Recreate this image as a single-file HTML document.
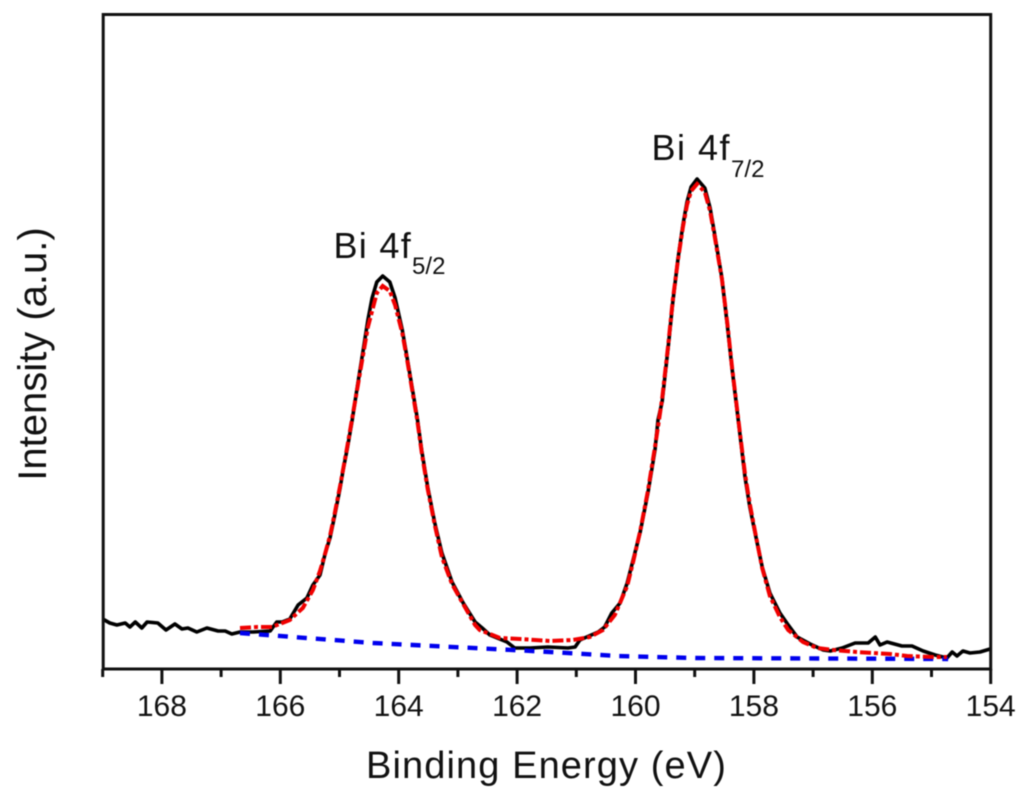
<!DOCTYPE html>
<html lang="en">
<head>
<meta charset="utf-8">
<title>Bi 4f XPS spectrum</title>
<style>
html,body{margin:0;padding:0;background:#fff;width:1024px;height:793px;overflow:hidden}
svg{display:block;filter:blur(0.4px)}
text{font-family:"Liberation Sans",Arial,sans-serif;fill:#111}
</style>
</head>
<body>
<svg id="chart" xmlns="http://www.w3.org/2000/svg" width="1024" height="793" viewBox="0 0 1024 793">
<rect width="1024" height="793" fill="#fff"/>
<g id="series"></g>
<rect x="103.2" y="14.5" width="887.5" height="654.5" fill="none" stroke="#111" stroke-width="3"/>
<g id="ticks"></g>
<text x="333.5" y="258" font-size="36" letter-spacing="1.3">Bi 4f<tspan font-size="24" dy="16" letter-spacing="0">5/2</tspan></text>
<text x="651.5" y="160" font-size="36" letter-spacing="1.5">Bi 4f<tspan font-size="24" dy="17" letter-spacing="0">7/2</tspan></text>
<text x="546.5" y="778" font-size="38" text-anchor="middle" letter-spacing="1.1">Binding Energy (eV)</text>
<text transform="translate(46,354) rotate(-90)" font-size="40" text-anchor="middle">Intensity (a.u.)</text>
</svg>
<script>
const rawEnergy = [169.0,168.88,168.76,168.62,168.54,168.45,168.34,168.25,168.07,167.93,167.78,167.66,167.56,167.41,167.24,167.05,166.93,166.82,166.68,166.46,166.17,166.06,165.97,165.84,165.70,165.55,165.45,165.33,165.24,165.16,165.08,164.99,164.94,164.87,164.79,164.69,164.60,164.52,164.45,164.37,164.27,164.15,164.06,163.94,163.86,163.78,163.69,163.61,163.51,163.39,163.27,163.10,162.91,162.71,162.59,162.46,162.17,162.04,161.78,161.48,161.14,161.02,160.94,160.63,160.52,160.40,160.26,160.14,160.04,159.92,159.79,159.67,159.62,159.55,159.45,159.37,159.28,159.20,159.13,159.06,158.96,158.83,158.74,158.66,158.54,158.45,158.37,158.30,158.23,158.15,158.07,157.98,157.86,157.73,157.56,157.42,157.27,157.05,156.83,156.71,156.51,156.29,156.07,155.95,155.87,155.75,155.50,155.33,155.14,154.94,154.74,154.65,154.57,154.47,154.35,154.18,154.01];
const rawIntensity = [50,46,44,46,42,47,41,47,46,39,45,40,41,37,41,38,38,35,37,37,38,47,47,50,64,71,84,94,116,131,154,181,199,220,247,286,319,349,371,387,393,387,371,339,312,284,252,218,182,146,116,87,66,47,41,34,27,21,21,22,21,22,29,37,42,56,66,86,109,137,176,219,249,267,321,367,411,444,467,482,490,481,461,434,391,344,301,267,232,192,162,136,102,76,56,44,32,25,19,18,21,26,26,32,24,27,23,23,18,14,11,17,13,18,16,17,20];

const fitEnergy = [166.68,166.39,166.14,165.84,165.62,165.45,165.33,165.24,165.16,165.08,164.99,164.87,164.79,164.69,164.60,164.52,164.45,164.37,164.27,164.15,164.06,163.94,163.86,163.78,163.69,163.61,163.51,163.39,163.27,163.10,162.91,162.71,162.63,162.29,161.95,161.44,161.06,160.77,160.55,160.35,160.14,160.04,159.92,159.79,159.67,159.55,159.45,159.37,159.28,159.20,159.13,159.06,158.96,158.83,158.74,158.66,158.54,158.45,158.37,158.30,158.23,158.15,158.07,157.98,157.86,157.73,157.56,157.42,157.17,156.93,156.66,156.26,155.99,155.70,155.41,154.97,154.74];
const fitIntensity = [41,42,42,49,61,79,98,116,133,156,183,222,249,284,315,342,358,376,383,378,364,336,310,282,250,216,180,144,112,85,65,44,39,31,30,28,29,32,39,54,83,107,138,178,222,270,323,369,410,442,464,478,485,477,458,432,390,346,302,268,233,195,165,137,101,73,52,39,27,21,19,17,16,15,13,12,12];

const baselineEnergy = [166.68,164.43,162.07,161.44,160.30,158.99,154.72];
const baselineIntensity = [36,26,19,17,13,11,10];

const majorTicks = [168,166,164,162,160,158,156,154];
const minorTicks = [169,167,165,163,161,159,157,155];

const NS = 'http://www.w3.org/2000/svg';
const seriesGroup = document.getElementById('series');
const tickGroup = document.getElementById('ticks');
function xScale(v){ return 990.7 - (v - 154) * 59.2; }
function yScale(v){ return 669 - v; }
function pathFrom(xs, ys){
  return xs.map(function(v, i){ return (i ? 'L' : 'M') + xScale(v).toFixed(1) + ' ' + yScale(ys[i]).toFixed(1); }).join(' ');
}

const rawLine = document.createElementNS(NS, 'path');


rawLine.setAttribute('d', pathFrom(rawEnergy, rawIntensity));
rawLine.setAttribute('fill', 'none');
rawLine.setAttribute('stroke', '#000');
rawLine.setAttribute('stroke-width', '3.6');
rawLine.setAttribute('stroke-linejoin', 'round');
seriesGroup.appendChild(rawLine);

const baseLine = document.createElementNS(NS, 'path');


baseLine.setAttribute('d', pathFrom(baselineEnergy, baselineIntensity));
baseLine.setAttribute('fill', 'none');
baseLine.setAttribute('stroke', '#0000ee');
baseLine.setAttribute('stroke-width', '4.4');
baseLine.setAttribute('stroke-dasharray', '10 9');
seriesGroup.appendChild(baseLine);

const fitLine = document.createElementNS(NS, 'path');


fitLine.setAttribute('d', pathFrom(fitEnergy, fitIntensity));
fitLine.setAttribute('fill', 'none');
fitLine.setAttribute('stroke', '#f00000');
fitLine.setAttribute('stroke-width', '4');
fitLine.setAttribute('stroke-dasharray', '11 3 4 3');
seriesGroup.appendChild(fitLine);

majorTicks.forEach(function(v){
  const t = document.createElementNS(NS, 'line');
  
  
  t.setAttribute('x1', xScale(v));
  t.setAttribute('x2', xScale(v));
  t.setAttribute('y1', 669);
  t.setAttribute('y2', 684);
  t.setAttribute('stroke', '#111');
  t.setAttribute('stroke-width', '3');
  tickGroup.appendChild(t);
  const label = document.createElementNS(NS, 'text');
  
  
  label.setAttribute('x', xScale(v));
  label.setAttribute('y', 716);
  label.setAttribute('font-size', '30');
  label.setAttribute('text-anchor', 'middle');
  label.textContent = String(v);
  tickGroup.appendChild(label);
});
minorTicks.forEach(function(v){
  const t = document.createElementNS(NS, 'line');
  
  
  t.setAttribute('x1', xScale(v));
  t.setAttribute('x2', xScale(v));
  t.setAttribute('y1', 669);
  t.setAttribute('y2', 677);
  t.setAttribute('stroke', '#111');
  t.setAttribute('stroke-width', '3');
  tickGroup.appendChild(t);
});
</script>
</body>
</html>
